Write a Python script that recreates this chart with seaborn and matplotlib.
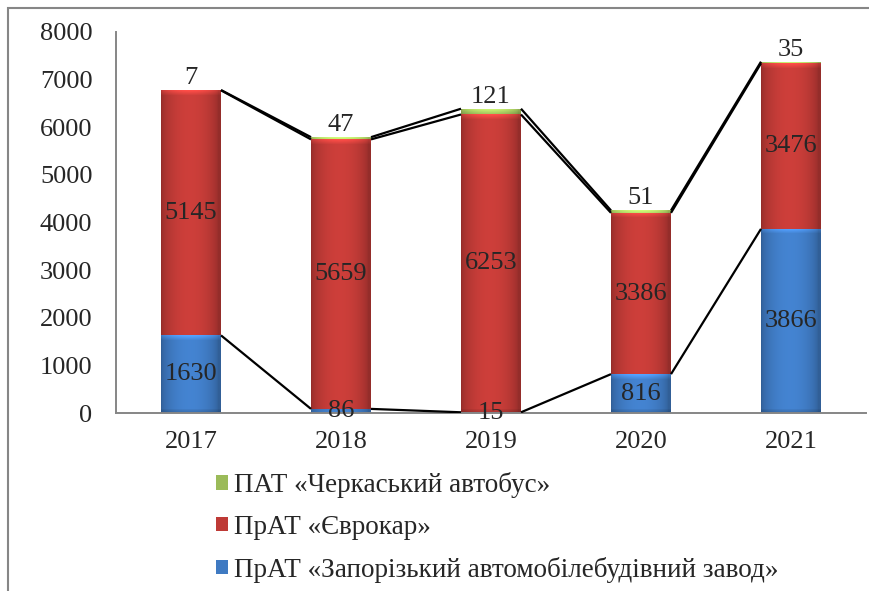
import numpy as np
import pandas as pd
import matplotlib
matplotlib.use("Agg")
import matplotlib.pyplot as plt
import seaborn as sns
from matplotlib.patches import Rectangle, Patch
from matplotlib.colors import to_rgb

years = ["2017", "2018", "2019", "2020", "2021"]
zaz = [1630, 86, 15, 816, 3866]          # ПрАТ «Запорізький автомобілебудівний завод»
eurocar = [5145, 5659, 6253, 3386, 3476]  # ПрАТ «Єврокар»
cherkasy = [7, 47, 121, 51, 35]           # ПАТ «Черкаський автобус»
y_ticks = [0, 1000, 2000, 3000, 4000, 5000, 6000, 7000, 8000]

names = ["ПАТ «Черкаський автобус»", "ПрАТ «Єврокар»",
         "ПрАТ «Запорізький автомобілебудівний завод»"]

sns.set_style("white")
plt.rcParams["font.family"] = ["Liberation Serif", "DejaVu Serif"]

green = "#9BBB59"
red = "#BE3A36"
blue = "#3F7AC2"

W, H = 869, 591
fig = plt.figure(figsize=(W / 100, H / 100), dpi=100)
ax = fig.add_axes([116 / W, 1 - 413 / H, 750 / W, 381 / H])

z = np.array(zaz, float)
e = np.array(eurocar, float)
c = np.array(cherkasy, float)
lvl_blue = z
lvl_red = z + e
lvl_tot = z + e + c

df = pd.DataFrame({"year": years, "blue": lvl_blue, "red": lvl_red, "tot": lvl_tot})
bw = 0.4
sns.barplot(data=df, x="year", y="tot", color=green, width=bw, saturation=1, ax=ax, zorder=2)
sns.barplot(data=df, x="year", y="red", color=red, width=bw, saturation=1, ax=ax, zorder=2)
sns.barplot(data=df, x="year", y="blue", color=blue, width=bw, saturation=1, ax=ax, zorder=2)

ppd = 381 / 8000.0  # pixels per data unit (vertical)


def shade(patch, base):
    x0, y0 = patch.get_x(), patch.get_y()
    w, h = patch.get_width(), patch.get_height()
    if h <= 0:
        return
    rgb = np.array(to_rgb(base))
    nx = 60
    hp = max(int(round(h * ppd)), 1)
    xs_ = np.linspace(0, 1, nx)
    prof = 0.78 + 0.30 * np.sin(np.pi * np.clip(xs_ * 1.04, 0, 1)) ** 0.6
    img = np.clip(rgb[None, None, :] * prof[None, :, None], 0, 1)
    img = np.repeat(img, hp, axis=0)
    # bevel: lighter top band, slightly darker bottom band
    if hp > 12:
        for k in range(5):
            f = 1.25 - 0.05 * k
            img[hp - 1 - k] = np.clip(img[hp - 1 - k] * f, 0, 1)
        for k in range(4):
            img[k] = np.clip(img[k] * (0.85 + 0.03 * k), 0, 1)
    im = ax.imshow(img, extent=[x0, x0 + w, y0, y0 + h], origin="lower",
                   aspect="auto", zorder=2.5, interpolation="bilinear")
    im.set_clip_path(patch)


for cont, col in zip(ax.containers, [green, red, blue]):
    for p in cont.patches:
        p.set_edgecolor("none")
        shade(p, col)

# series lines
xs = np.arange(len(years))
for lvl in (lvl_blue, lvl_red, lvl_tot):
    for i in range(len(years) - 1):
        ax.plot([xs[i] + bw / 2, xs[i + 1] - bw / 2], [lvl[i], lvl[i + 1]],
                color="black", lw=1.6, zorder=3, solid_capstyle="butt")

fs = 19
for i in range(len(years)):
    ax.text(xs[i], z[i] / 2, f"{zaz[i]}", ha="center", va="center", fontsize=fs, zorder=4)
    ax.text(xs[i], z[i] + e[i] / 2, f"{eurocar[i]}", ha="center", va="center", fontsize=fs, zorder=4)
    ax.text(xs[i], lvl_tot[i] + 20, f"{cherkasy[i]}", ha="center", va="bottom", fontsize=fs, zorder=4)

ax.set_xlim(-0.5, len(years) - 0.5)
ax.set_ylim(0, 8000)
ax.set_yticks(y_ticks)
ax.set_yticklabels([str(t) for t in y_ticks])
ax.set_xticks(np.arange(-0.5, len(years), 1.0))
ax.set_xticklabels([])
ax.set_xticks(xs, minor=True)
ax.set_xticklabels(years, minor=True)
ax.tick_params(axis="x", which="major", direction="out", length=6, color="#868686", width=1.2)
ax.tick_params(axis="x", which="minor", length=0, pad=13, labelsize=fs)
ax.tick_params(axis="y", direction="out", length=6, color="#868686", width=1.2, pad=11, labelsize=fs)
ax.set_xlabel("")
ax.set_ylabel("")
for s in ("top", "right"):
    ax.spines[s].set_visible(False)
for s in ("left", "bottom"):
    ax.spines[s].set_color("#868686")
    ax.spines[s].set_linewidth(1.4)

handles = [Patch(facecolor=green, edgecolor="none"),
           Patch(facecolor=red, edgecolor="none"),
           Patch(facecolor=blue, edgecolor="none")]
fig.legend(handles, names, loc="upper left", bbox_to_anchor=(216 / W, 1 - 472 / H),
           frameon=False, fontsize=19.5, handlelength=0.45, handleheight=0.45,
           handletextpad=0.22, labelspacing=0.62, borderaxespad=0, borderpad=0)

fig.patches.append(Rectangle((8 / W, -0.1), 1.2, 1 - 8 / H + 0.1, transform=fig.transFigure,
                             fill=False, edgecolor="#868686", lw=1.5, zorder=0))

fig.savefig("out.png", dpi=100)
